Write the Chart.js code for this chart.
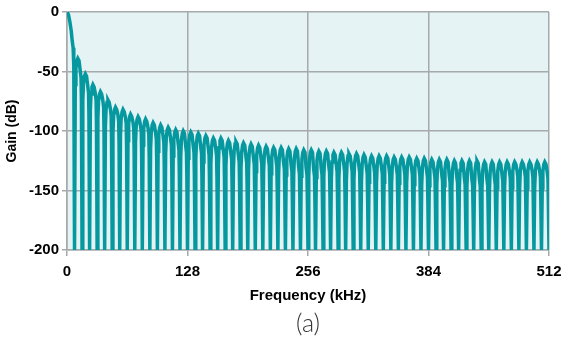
<!DOCTYPE html>
<html>
<head>
<meta charset="utf-8">
<script src="https://cdn.jsdelivr.net/npm/chart.js@4/dist/chart.umd.min.js"></script>
<style>
    html, body { margin: 0; padding: 0; background: #ffffff; }
    #wrap { width: 564px; height: 343px; }
</style>
</head>
<body>
<div id="wrap"><canvas id="chartgain"></canvas></div>
<script>
// main lobe, read point by point
var mainLobeFreq = [0, 1.5, 3, 4.5, 5.5, 6.5, 7.2, 8];
var mainLobeGain = [0, -2, -8, -16, -24, -30, -45, -200];

// side lobes: centre frequency (kHz), peak gain and right shoulder gain (dB)
var sideLobeCentre = [12, 20, 28, 36, 44, 52, 60, 68, 76, 84, 92, 100, 108, 116, 124, 132, 140, 148, 156, 164,
    172, 180, 188, 196, 204, 212, 220, 228, 236, 244, 252, 260, 268, 276, 284, 292, 300, 308, 316, 324,
    332, 340, 348, 356, 364, 372, 380, 388, 396, 404, 412, 420, 428, 436, 444, 452, 460, 468, 476, 484,
    492, 500, 508];
var sideLobePeak = [-39, -52, -61, -67, -74, -80, -82, -86, -88, -90,
    -93, -95, -97, -99, -100, -101, -102, -104, -106, -106,
    -108, -109, -110, -111, -112, -113, -114, -114, -115, -115,
    -116, -116, -117, -117, -118, -118, -119, -119, -120, -121,
    -121, -121, -122, -122, -122, -123, -123, -124, -124, -124,
    -125, -125, -125, -125, -126, -126, -126, -126, -126, -126,
    -126, -126, -126];
var sideLobeShoulder = [-49, -62, -68, -74, -81, -86, -88, -92, -95, -97,
    -101, -104, -106, -110, -112, -112, -113, -114, -115, -116,
    -118, -120, -121, -122, -122, -123, -124, -126, -128, -130,
    -131, -132, -131, -129, -128, -128, -128, -129, -130, -130,
    -130, -131, -131, -131, -131, -132, -133, -134, -136, -137,
    -138, -139, -140, -140, -140, -139, -136, -134, -133, -133,
    -133, -133, -134];

var freqTicks = [0, 128, 256, 384, 512];
var gainTicks = [0, -50, -100, -150, -200];

var FLOOR = -200;

// build the trace: each lobe dives to the floor at its edges
var points = [];
for (var i = 0; i < mainLobeFreq.length; i++) {
    points.push({ x: mainLobeFreq[i], y: mainLobeGain[i] });
}
for (var k = 0; k < sideLobeCentre.length; k++) {
    var c = sideLobeCentre[k];
    var p = sideLobePeak[k];
    var s = sideLobeShoulder[k];
    points.push({ x: c - 3.2, y: p - 22 });
    points.push({ x: c - 2.5, y: p - 8 });
    points.push({ x: c - 1.5, y: p - 2 });
    points.push({ x: c - 0.5, y: p });
    points.push({ x: c + 0.8, y: p - 2 });
    points.push({ x: c + 2.0, y: s });
    points.push({ x: c + 2.9, y: s - 6 });
    points.push({ x: c + 3.3, y: s - 25 });
    points.push({ x: c + 4, y: FLOOR });
}

var plotBg = {
    id: 'plotBg',
    beforeDraw: function (chart) {
        var a = chart.chartArea;
        var ctx = chart.ctx;
        ctx.save();
        ctx.fillStyle = '#e5f3f5';
        ctx.fillRect(a.left, a.top, a.right - a.left, a.bottom - a.top);
        ctx.restore();
    }
};

// sub caption under the x axis title, centred on the plot
var caption = {
    id: 'caption',
    afterDraw: function (chart) {
        var a = chart.chartArea;
        var ctx = chart.ctx;
        ctx.save();
        ctx.fillStyle = '#333333';
        ctx.font = '300 25px Lato, "Liberation Sans", Arial';
        ctx.textAlign = 'center';
        ctx.textBaseline = 'middle';
        ctx.fillText('(a)', (a.left + a.right) / 2, 324);
        ctx.restore();
    }
};

var gridColor = '#a6aaaa';

var chartgain = new Chart(document.getElementById('chartgain').getContext('2d'), {
    type: 'line',
    data: {
        datasets: [{
            label: 'Gain',
            data: points,
            borderColor: '#05999f',
            borderWidth: 3.5,
            pointRadius: 0,
            tension: 0,
            fill: false
        }]
    },
    options: {
        responsive: true,
        maintainAspectRatio: false,
        animation: false,
        layout: { padding: { top: 10, right: 15, left: 0, bottom: 38 } },
        plugins: {
            legend: { display: false },
            tooltip: { enabled: false }
        },
        scales: {
            x: {
                type: 'linear',
                min: 0,
                max: 512,
                afterBuildTicks: function (scale) {
                    scale.ticks = freqTicks.map(function (v) { return { value: v }; });
                },
                afterFit: function (scale) {
                    scale.height = 55;
                    scale.paddingLeft = 0;
                    scale.paddingRight = 0;
                },
                grid: { color: gridColor, lineWidth: 1.5, tickLength: 6, tickColor: gridColor },
                border: { color: gridColor, width: 1.5 },
                ticks: {
                    color: '#000000',
                    padding: 7,
                    maxRotation: 0,
                    font: { family: '"Liberation Sans", Arial', size: 15, weight: 'bold' }
                },
                title: {
                    display: true,
                    text: 'Frequency (kHz)',
                    color: '#000000',
                    padding: { top: 0, bottom: 0 },
                    font: { family: '"Liberation Sans", Arial', size: 15, weight: 'bold' }
                }
            },
            y: {
                min: -200,
                max: 0,
                afterBuildTicks: function (scale) {
                    scale.ticks = gainTicks.map(function (v) { return { value: v }; });
                },
                afterFit: function (scale) { scale.width = 67; },
                grid: { color: gridColor, lineWidth: 1.5, tickLength: 5, tickColor: gridColor },
                border: { color: gridColor, width: 1.5 },
                ticks: {
                    color: '#000000',
                    padding: 3,
                    font: { family: '"Liberation Sans", Arial', size: 15, weight: 'bold' }
                },
                title: {
                    display: true,
                    text: 'Gain (dB)',
                    color: '#000000',
                    padding: { top: 4, bottom: 0 },
                    font: { family: '"Liberation Sans", Arial', size: 14, weight: 'bold' }
                }
            }
        }
    },
    plugins: [plotBg, caption]
});
</script>
</body>
</html>
